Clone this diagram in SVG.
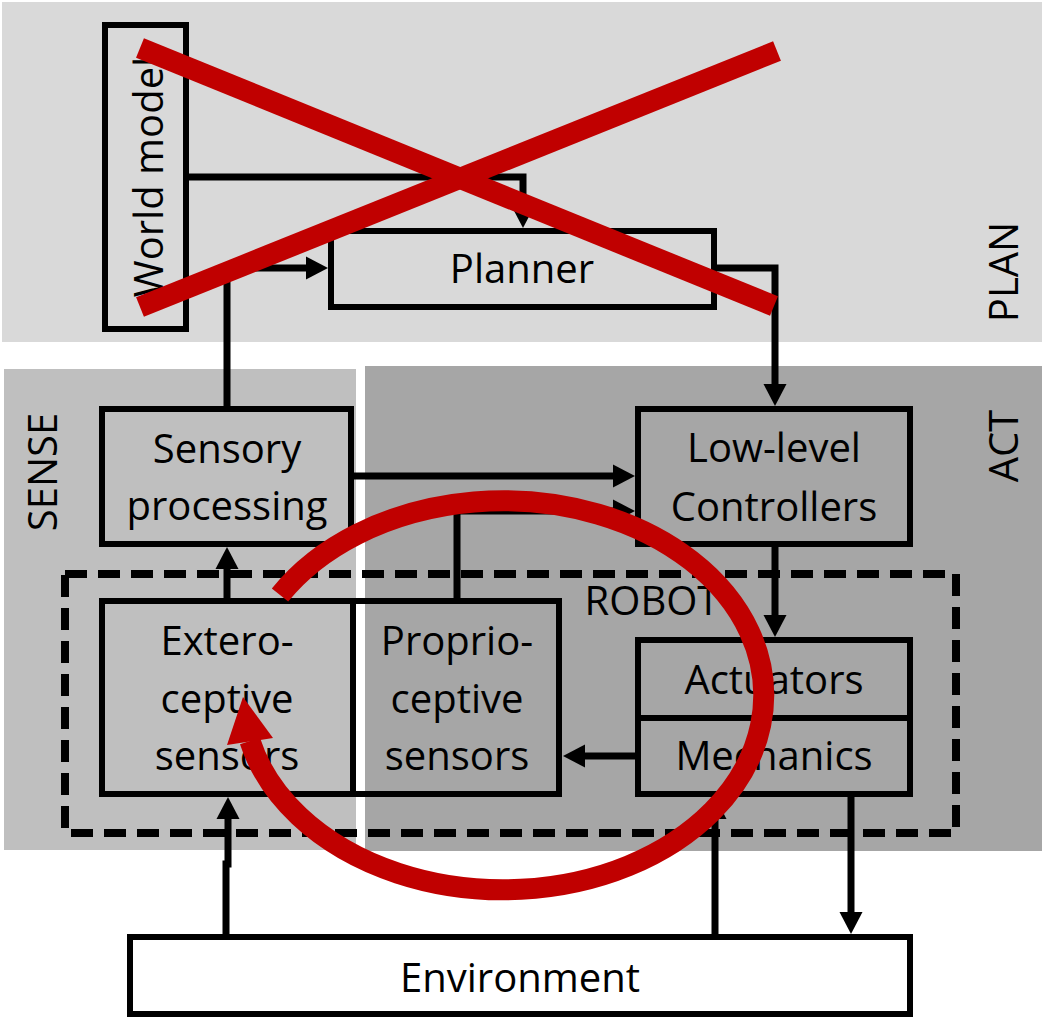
<svg xmlns="http://www.w3.org/2000/svg" width="1044" height="1018" viewBox="0 0 1044 1018">
  <style>
    .box { fill: none; stroke: #000; stroke-width: 6; }
    .txt { font-family: "Open Sans", "Noto Sans", sans-serif; font-size: 40px; fill: #000; text-anchor: middle; }
    .conn { fill: none; stroke: #000; stroke-width: 7; marker-end: url(#arrow); }
    .red { fill: none; stroke: #C00000; stroke-width: 21; }
  </style>
  <defs>
    <marker id="arrow" markerUnits="userSpaceOnUse" markerWidth="24" markerHeight="24" refX="8" refY="12" orient="auto">
      <path d="M0,0.5 L22,12 L0,23.5 z" fill="#000"/>
    </marker>
  </defs>
  <rect width="1044" height="1018" fill="#fff"/>
  <g id="layers">
    <rect x="2" y="2" width="1040" height="340" fill="#D9D9D9"/>
    <rect x="4" y="369" width="352" height="481" fill="#BFBFBF"/>
    <rect x="365" y="366" width="677" height="485" fill="#A6A6A6"/>
    <text class="txt" transform="translate(1018,272) rotate(-90)">PLAN</text>
    <text class="txt" transform="translate(1018,446) rotate(-90)">ACT</text>
    <text class="txt" transform="translate(57,472) rotate(-90)">SENSE</text>
  </g>
  <g id="robot">
    <rect x="65" y="574" width="891" height="259" fill="none" stroke="#000" stroke-width="8" stroke-dasharray="22 11"/>
    <text class="txt" x="652" y="615">ROBOT</text>
  </g>
  <g id="world-model">
    <rect class="box" x="105" y="25" width="81" height="304"/>
    <text class="txt" transform="translate(163,177) rotate(-90)">World model</text>
  </g>
  <g id="planner">
    <rect class="box" x="331" y="231" width="383" height="76"/>
    <text class="txt" x="522" y="283">Planner</text>
  </g>
  <g id="sensory-processing">
    <rect class="box" x="102" y="409" width="249" height="135"/>
    <text class="txt" x="227" y="463">Sensory</text>
    <text class="txt" x="227" y="520">processing</text>
  </g>
  <g id="low-level-controllers">
    <rect class="box" x="638" y="409" width="272" height="135"/>
    <text class="txt" x="774" y="462">Low-level</text>
    <text class="txt" x="774" y="521">Controllers</text>
  </g>
  <g id="exteroceptive-sensors">
    <rect class="box" x="102" y="601" width="251" height="193"/>
    <text class="txt" x="227" y="655">Extero-</text>
    <text class="txt" x="227" y="713">ceptive</text>
    <text class="txt" x="227" y="770">sensors</text>
  </g>
  <g id="proprioceptive-sensors">
    <rect class="box" x="353" y="601" width="206" height="193"/>
    <text class="txt" x="457" y="655">Proprio-</text>
    <text class="txt" x="457" y="713">ceptive</text>
    <text class="txt" x="457" y="770">sensors</text>
  </g>
  <g id="actuators-mechanics">
    <rect class="box" x="638" y="640" width="272" height="154"/>
    <line x1="638" y1="718" x2="910" y2="718" stroke="#000" stroke-width="6"/>
    <text class="txt" x="774" y="694">Actuators</text>
    <text class="txt" x="774" y="770">Mechanics</text>
  </g>
  <g id="environment">
    <rect class="box" x="130" y="937" width="780" height="77" fill="#fff" style="fill:#fff"/>
    <text class="txt" x="520" y="992">Environment</text>
  </g>
  <g id="connectors">
    <path class="conn" d="M189 177 H523 V214"/>
    <path class="conn" d="M227 406 V268 H314"/>
    <path class="conn" d="M717 268 H775 V392"/>
    <path class="conn" d="M354 476 H621"/>
    <path class="conn" d="M457 598 V511 H621"/>
    <path class="conn" d="M775 547 V623"/>
    <path class="conn" d="M635 756 H577"/>
    <path class="conn" d="M851 797 V920"/>
    <path class="conn" d="M715 934 V811"/>
    <path class="conn" d="M226 934 V864 H228 V811"/>
    <path class="conn" d="M227 598 V561"/>
  </g>
  <g id="overlay">
    <line class="red" x1="140" y1="48" x2="774" y2="306"/>
    <line class="red" x1="140" y1="307" x2="777" y2="51"/>
    <path class="red" d="M280 595 A260.5 194.5 0 1 1 250 741"/>
    <polygon points="243,697 227,745 273,738" fill="#C00000"/>
  </g>
</svg>
